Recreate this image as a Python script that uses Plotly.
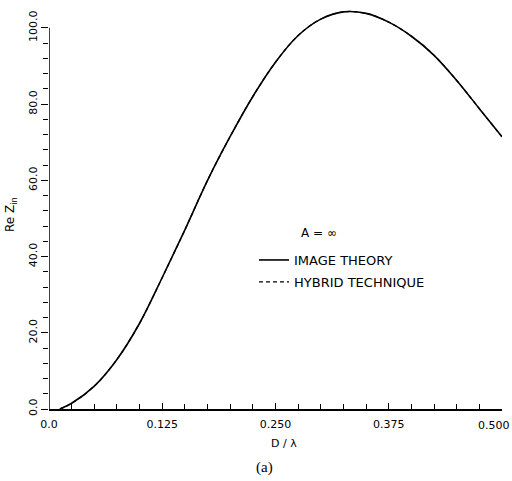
import plotly.graph_objects as go

# Electrical spacing D/lambda and real part of the input impedance
d_lambda = [0.012, 0.025, 0.05, 0.075, 0.1, 0.125, 0.15, 0.175, 0.2, 0.225,
            0.25, 0.275, 0.3, 0.325, 0.35, 0.375, 0.4, 0.425, 0.45, 0.475, 0.5]
image_theory = [0.0, 1.5, 6.0, 13.0, 22.5, 34.5, 47.0, 60.0, 71.5, 82.0,
                91.0, 98.0, 102.3, 104.2, 103.8, 101.5, 97.8, 92.8, 86.2, 78.8, 71.4]
hybrid_technique = [0.0, 1.5, 6.0, 13.0, 22.5, 34.5, 47.0, 60.0, 71.5, 82.0,
                    91.0, 98.0, 102.3, 104.2, 103.8, 101.5, 97.8, 92.8, 86.2, 78.8, 71.4]

x_ticks = [0.0, 0.125, 0.25, 0.375, 0.5]
x_tick_text = ["0.0", "0.125", "0.250", "0.375", "0.500"]
y_ticks = [0, 20, 40, 60, 80, 100]
y_tick_text = ["0.0", "20.0", "40.0", "60.0", "80.0", "100.0"]
y_minor = list(range(0, 101, 4))

FONT = "DejaVu Sans"

fig = go.Figure()
fig.add_trace(go.Scatter(
    x=d_lambda, y=image_theory, mode="lines", name="IMAGE THEORY",
    line=dict(color="black", width=1.6, shape="spline", smoothing=1.0),
    legendgroup="a",
))
fig.add_trace(go.Scatter(
    x=d_lambda, y=hybrid_technique, mode="lines", name="HYBRID TECHNIQUE",
    line=dict(color="black", width=1.3, dash="4px,3px", shape="spline", smoothing=1.0),
    legendgroup="b",
))

# y-axis line stops at 100 while the curve may rise above it
fig.add_shape(type="line", xref="x", yref="y", x0=0, x1=0, y0=0, y1=100,
              line=dict(color="black", width=1.5))

# the last x label sits inside the right edge, so it is placed by hand
axis_labels_x = [t if v < 0.5 else "" for v, t in zip(x_ticks, x_tick_text)]

fig.update_layout(
    width=512, height=481,
    margin=dict(l=49, r=10, t=5, b=72),
    paper_bgcolor="white", plot_bgcolor="white",
    font=dict(family=FONT, size=11, color="black"),
    showlegend=True,
    legend=dict(
        x=(254 - 49) / 453, y=(409 - 245) / 404, xanchor="left", yanchor="top",
        font=dict(family=FONT, size=13, color="black"),
        bgcolor="rgba(0,0,0,0)", traceorder="grouped", tracegroupgap=2,
    ),
    xaxis=dict(
        range=[0, 0.5], tickvals=x_ticks, ticktext=axis_labels_x,
        ticks="inside", ticklen=6, tickwidth=1.2, tickcolor="black",
        ticklabelstandoff=4,
        minor=dict(dtick=0.025, tick0=0, ticks="inside", ticklen=5,
                   tickwidth=1.2, tickcolor="black"),
        showline=True, linecolor="black", linewidth=1.5,
        showgrid=False, zeroline=False,
        tickfont=dict(family=FONT, size=11),
    ),
    yaxis=dict(
        range=[0, 106], tickvals=y_ticks, ticktext=y_tick_text,
        ticks="outside", ticklen=7, tickwidth=1.2, tickcolor="black",
        minor=dict(tickmode="array", tickvals=y_minor, ticks="outside",
                   ticklen=5, tickwidth=1.2, tickcolor="black"),
        tickangle=-90,
        showline=False, showgrid=False, zeroline=False,
        tickfont=dict(family=FONT, size=11),
    ),
    annotations=[
        dict(text=x_tick_text[-1], xref="paper", yref="paper",
             x=(494 - 49) / 453, y=(409 - 425) / 404,
             xanchor="center", yanchor="middle", showarrow=False,
             font=dict(family=FONT, size=11)),
        dict(text="D / \u03bb", xref="paper", yref="paper",
             x=(284 - 49) / 453, y=(409 - 443) / 404,
             xanchor="center", yanchor="middle", showarrow=False,
             font=dict(family=FONT, size=11)),
        dict(text="(a)", xref="paper", yref="paper",
             x=(264 - 49) / 453, y=(409 - 468) / 404,
             xanchor="center", yanchor="middle", showarrow=False,
             font=dict(family="Liberation Serif", size=15)),
        dict(text="Re Z<sub>in</sub>", xref="paper", yref="paper",
             x=(11 - 49) / 453, y=(409 - 215) / 404, textangle=-90,
             xanchor="center", yanchor="middle", showarrow=False,
             font=dict(family=FONT, size=12)),
        dict(text="A = \u221e", xref="paper", yref="paper",
             x=(299 - 49) / 453, y=(409 - 233) / 404,
             xanchor="left", yanchor="middle", showarrow=False,
             font=dict(family=FONT, size=12)),
    ],
)

fig.write_html("out.html")
